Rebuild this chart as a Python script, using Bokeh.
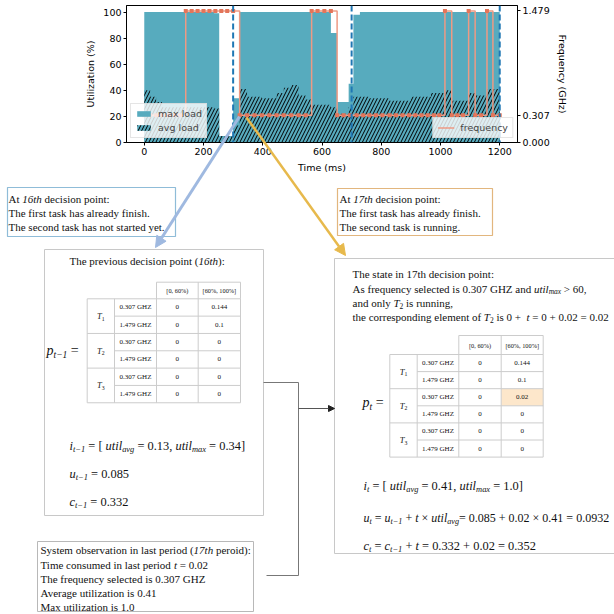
import numpy as np
from collections import defaultdict
from bokeh.plotting import figure
from bokeh.models import (Range1d, LinearAxis, FixedTicker, NumeralTickFormatter, Span,
                          Legend, LegendItem, ColumnDataSource, Arrow, NormalHead)
from bokeh.layouts import column
from bokeh.core.properties import value
from bokeh.embed import file_html
from bokeh.resources import INLINE

# ------------------------------------------------------------------ data
max_t = [0, 236, 253, 300, 322, 630, 651, 690, 706, 728, 1200]
max_v = [100, 99, 5, 34, 100, 84, 31, 45, 98, 100, 100]

avg_t = [0, 20, 40, 60, 236, 253, 300, 322, 347, 397, 447, 471, 496, 521, 545, 565, 630,
         651, 690, 706, 760, 828, 900, 968, 1015, 1038, 1095, 1117, 1157, 1200]
avg_v = [40, 35, 31, 27, 26, 5, 13, 41, 35, 34, 38, 42, 44, 36, 33, 29, 27,
         22, 27, 35, 34, 32, 35, 38, 40, 32, 38, 36, 41, 41]

freq_t = [0, 140, 322, 565, 651, 1015, 1038, 1095, 1117, 1157, 1177, 1200]
freq_v = [0.307, 1.479, 0.307, 1.479, 0.307, 1.479, 0.307, 1.479, 0.307, 1.479, 0.307, 0.307]

decision_ms = [0, 20, 40, 60, 80, 100, 120, 140, 160, 180, 200, 220, 240, 260, 280, 300, 322,
               347, 372, 397, 422, 447, 471, 496, 521, 545, 565, 585, 608, 630, 651, 673, 695,
               717, 739, 760, 782, 804, 828, 850, 872, 894, 915, 936, 957, 978, 996, 1015,
               1038, 1057, 1076, 1095, 1117, 1137, 1157, 1177, 1200]

event_ms = [300, 700, 1200]

x_ticks = [0, 200, 400, 600, 800, 1000, 1200]
util_ticks = [0, 20, 40, 60, 80, 100]
freq_ticks = [0.0, 0.307, 1.479]

tasks = ["1", "2", "3"]
freq_labels = ["0.307 GHZ", "1.479 GHZ"]
bin_labels = ["[0, 60%)", "[60%, 100%]"]
p_prev = [[0, 0.144], [0, 0.1], [0, 0], [0, 0], [0, 0], [0, 0]]
p_now = [[0, 0.144], [0, 0.1], [0, 0.02], [0, 0], [0, 0], [0, 0]]

# ------------------------------------------------------------------ top chart
teal = "#57abbe"
top = figure(width=614, height=614, x_range=Range1d(-60, 1260), y_range=Range1d(0, 105),
             output_backend="svg", toolbar_location=None,
             min_border_left=126, min_border_right=97, min_border_top=5, min_border_bottom=472)
top.xgrid.visible = False
top.ygrid.visible = False
top.outline_line_color = "black"
top.outline_line_alpha = 1.0

r_max = top.varea_step(x=max_t, y1=[0] * len(max_t), y2=max_v, step_mode="after",
                       fill_color=teal)
r_avg = top.varea_step(x=avg_t, y1=[0] * len(avg_t), y2=avg_v, step_mode="after",
                       fill_color=teal, hatch_pattern="/", hatch_color="black",
                       hatch_scale=7, hatch_weight=1)

top.extra_y_ranges = {"freq": Range1d(0, 1.54)}
r_f = top.step(x=freq_t, y=freq_v, mode="after", y_range_name="freq",
               line_color="#ee9a84", line_width=1.5)
idx = np.searchsorted(freq_t, decision_ms, side="right") - 1
marker_f = np.array(freq_v)[np.clip(idx, 0, len(freq_v) - 1)]
top.scatter(x=decision_ms, y=marker_f, y_range_name="freq", marker="square", size=4,
            fill_color="#e3755a", line_color=None)

for xv in event_ms:
    top.add_layout(Span(location=xv, dimension="height", line_color="#1f77b4",
                        line_width=2, line_dash="6 3"))

top.xaxis.ticker = FixedTicker(ticks=x_ticks)
top.yaxis.ticker = FixedTicker(ticks=util_ticks)
top.xaxis.axis_label = "Time (ms)"
top.yaxis.axis_label = "Utilization (%)"
raxis = LinearAxis(y_range_name="freq", ticker=FixedTicker(ticks=freq_ticks),
                   formatter=NumeralTickFormatter(format="0.000"),
                   axis_label="Frequency (GHz)")
top.add_layout(raxis, "right")
for ax in top.axis:
    ax.major_label_text_font = "DejaVu Sans"
    ax.major_label_text_font_size = "9.5px"
    ax.major_label_text_color = "black"
    ax.axis_label_text_font = "DejaVu Sans"
    ax.axis_label_text_font_size = "9.5px"
    ax.axis_label_text_font_style = "normal"
    ax.axis_label_text_color = "black"
    ax.axis_line_color = "black"
    ax.major_tick_line_color = "black"
    ax.major_tick_out = 3
    ax.major_tick_in = 0
    ax.minor_tick_out = 0
    ax.minor_tick_in = 0
    ax.major_label_standoff = 2
    ax.axis_label_standoff = 4

def style_legend(lg):
    lg.label_text_font = "DejaVu Sans"
    lg.label_text_font_size = "9.5px"
    lg.glyph_width = 17
    lg.glyph_height = 7
    lg.label_height = 9
    lg.label_standoff = 6
    lg.spacing = 3
    lg.padding = 4
    lg.margin = 4
    lg.background_fill_alpha = 0.8
    lg.border_line_color = "#cccccc"

leg1 = Legend(items=[LegendItem(label="max load", renderers=[r_max]),
                     LegendItem(label="avg load", renderers=[r_avg])], location="bottom_left")
style_legend(leg1)
top.add_layout(leg1)
leg2 = Legend(items=[LegendItem(label="frequency", renderers=[r_f])], location="bottom_right")
style_legend(leg2)
top.add_layout(leg2)

# ------------------------------------------------------------------ diagram overlay
dia = figure(width=614, height=614, x_range=Range1d(0, 614), y_range=Range1d(614, 0),
             output_backend="svg", toolbar_location=None, min_border=0,
             x_axis_type=None, y_axis_type=None, outline_line_color=None,
             background_fill_color=None, border_fill_color=None)
dia.grid.visible = False
for fig in (top, dia):
    try:
        fig.frame_align = False
    except Exception:
        pass

REG = dict(zip("abcdefghijklmnopqrstuvwxyz",
               [444, 500, 444, 500, 444, 333, 500, 500, 278, 278, 500, 278, 778, 500, 500,
                500, 500, 333, 389, 278, 500, 500, 722, 500, 500, 444]))
REG.update(zip("ABCDEFGHIJKLMNOPQRSTUVWXYZ",
               [722, 667, 667, 722, 611, 556, 722, 722, 333, 389, 722, 611, 889, 722, 722,
                556, 722, 667, 556, 611, 722, 722, 944, 722, 722, 611]))
REG.update({c: 500 for c in "0123456789"})
REG.update({" ": 250, "(": 333, ")": 333, "[": 333, "]": 333, ",": 250, ".": 250, ":": 278,
            "=": 564, "+": 564, "\u2212": 564, "\u00d7": 564, ">": 564, "%": 833, "-": 333})
ITA = dict(zip("abcdefghijklmnopqrstuvwxyz",
               [500, 500, 444, 500, 444, 278, 500, 500, 278, 278, 444, 278, 722, 500, 500,
                500, 500, 389, 389, 278, 500, 444, 667, 444, 444, 389]))
ITA.update({c: 500 for c in "0123456789"})
ITA.update({"T": 556, " ": 250, "\u2212": 675})

def tw(s, italic, size):
    tbl = ITA if italic else REG
    return sum(tbl.get(ch, 500) for ch in s) / 1000.0 * size

TXT = defaultdict(lambda: {"x": [], "y": [], "text": []})

def put(x, y, s, size, style="normal", align="left"):
    d = TXT[(round(size, 2), style, align)]
    d["x"].append(x)
    d["y"].append(y)
    d["text"].append(s)

def runs(x, y, parts, size=11):
    for s, kind in parts:
        sub = kind.startswith("s")
        it = kind.endswith("i")
        sz = size * 0.68 if sub else size
        yy = y + size * 0.3 if sub else y
        core = s.strip(" ")
        lead = len(s) - len(s.lstrip(" "))
        x += tw(" " * lead, it, sz)
        if core:
            put(x, yy, core, sz, "italic" if it else "normal")
        x += tw(s[lead:], it, sz)
    return x

SEG = defaultdict(lambda: {"x0": [], "y0": [], "x1": [], "y1": []})

def seg(color, x0, y0, x1, y1):
    d = SEG[color]
    d["x0"].append(x0); d["y0"].append(y0); d["x1"].append(x1); d["y1"].append(y1)

def box(l, t, r, b, color, width=1.0):
    dia.quad(left=[l], right=[r], top=[t], bottom=[b], fill_color=None,
             line_color=color, line_width=width)

def table(x0, y0, hh, rh, cols, vals, hl=None):
    c0, c1, c2, c3, c4 = cols
    yd = y0 + hh
    if hl is not None:
        r, c = hl
        dia.quad(left=[cols[2 + c]], right=[cols[3 + c]], top=[yd + r * rh],
                 bottom=[yd + (r + 1) * rh], fill_color="#fde7cb", line_color=None)
    g = "#cccccc"
    seg(g, c2, y0, c4, y0)
    for c in (c2, c3, c4):
        seg(g, c, y0, c, yd)
    for k in range(7):
        seg(g, c0 if k % 2 == 0 else c1, yd + k * rh, c4, yd + k * rh)
    for c in cols:
        seg(g, c, yd, c, yd + 6 * rh)
    put((c2 + c3) / 2, y0 + hh / 2, bin_labels[0], 6.3, align="center")
    put((c3 + c4) / 2, y0 + hh / 2, bin_labels[1], 6.3, align="center")
    for gi, tk in enumerate(tasks):
        w = tw("T", True, 8.5) + tw(tk, False, 8.5 * 0.68)
        runs((c0 + c1) / 2 - w / 2, yd + (2 * gi + 1) * rh, [("T", "i"), (tk, "sr")], 8.5)
    for r in range(6):
        yc = yd + (r + 0.5) * rh
        put((c1 + c2) / 2, yc, freq_labels[r % 2], 7, align="center")
        put((c2 + c3) / 2, yc, f"{vals[r][0]:g}", 7, align="center")
        put((c3 + c4) / 2, yc, f"{vals[r][1]:g}", 7, align="center")

# callout boxes
box(7, 187, 175, 236, "#8fbcd8", 1.2)
runs(8, 198, [("At ", "r"), ("16th", "i"), (" decision point:", "r")])
runs(8, 212, [("The first task has already finish.", "r")])
runs(8, 226, [("The second task has not started yet.", "r")])

box(337, 188, 492, 235, "#e2b67e", 1.2)
runs(339, 198, [("At ", "r"), ("17th", "i"), (" decision point:", "r")])
runs(339, 212, [("The first task has already finish.", "r")])
runs(339, 226, [("The second task is running.", "r")])

# left main box
box(44, 249, 263, 515, "#c8c8c8")
runs(69, 260, [("The previous decision point (", "r"), ("16th", "i"), ("):", "r")])
table(86.7, 281.7, 16.6, 17.33, [86.7, 114, 156, 197.7, 240], p_prev)
runs(46, 350, [("p", "i"), ("t\u22121", "si"), (" =", "r")], 14)
MS = 12.4
runs(69, 445, [("i", "i"), ("t\u22121", "si"), (" = [ ", "r"), ("util", "i"), ("avg", "si"),
               (" = 0.13, ", "r"), ("util", "i"), ("max", "si"), (" = 0.34]", "r")], MS)
runs(69, 473, [("u", "i"), ("t\u22121", "si"), (" = 0.085", "r")], MS)
runs(69, 501, [("c", "i"), ("t\u22121", "si"), (" = 0.332", "r")], MS)

# right main box
box(334, 258, 630, 553, "#c8c8c8")
runs(352, 273, [("The state in 17th decision point:", "r")])
runs(352, 288, [("As frequency selected is 0.307 GHZ and ", "r"), ("util", "i"), ("max", "si"),
                (" > 60,", "r")])
runs(352, 302, [("and only ", "r"), ("T", "i"), ("2", "sr"), (" is running,", "r")])
runs(352, 316, [("the corresponding element of ", "r"), ("T", "i"), ("2", "sr"),
                (" is  0 + ", "r"), ("t", "i"), (" = 0 + 0.02 = 0.02", "r")])
table(389.3, 335, 19, 17.1, [389.3, 416.7, 458.3, 500.7, 542.7], p_now, hl=(2, 1))
runs(362, 402, [("p", "i"), ("t", "si"), (" =", "r")], 14)
runs(363, 485, [("i", "i"), ("t", "si"), (" = [ ", "r"), ("util", "i"), ("avg", "si"),
                (" = 0.41, ", "r"), ("util", "i"), ("max", "si"), (" = 1.0]", "r")], MS)
runs(363, 517, [("u", "i"), ("t", "si"), (" = ", "r"), ("u", "i"), ("t\u22121", "si"),
                (" + ", "r"), ("t", "i"), (" \u00d7 ", "r"), ("util", "i"), ("avg", "si"),
                ("= 0.085 + 0.02 \u00d7 0.41 = 0.0932", "r")], 12.0)
runs(363, 545, [("c", "i"), ("t", "si"), (" = ", "r"), ("c", "i"), ("t\u22121", "si"),
                (" + ", "r"), ("t", "i"), (" = 0.332 + 0.02 = 0.352", "r")], MS)

# bottom-left observation box
box(37, 541, 253, 611, "#b8b8b8")
runs(40, 549, [("System observation in last period (", "r"), ("17th", "i"), (" peroid):", "r")])
runs(40, 564, [("Time consumed in last period ", "r"), ("t", "i"), (" = 0.02", "r")])
runs(40, 578, [("The frequency selected is 0.307 GHZ", "r")])
runs(40, 592, [("Average utilization is 0.41", "r")])
runs(40, 606, [("Max utilization is 1.0", "r")])

# connectors
seg("#777777", 263, 382, 298, 382)
seg("#777777", 298, 382, 298, 575)
seg("#777777", 266, 575, 298, 575)

for color, d in SEG.items():
    dia.segment(x0="x0", y0="y0", x1="x1", y1="y1", source=ColumnDataSource(dict(d)),
                line_color=color, line_width=1)

dia.add_layout(Arrow(end=NormalHead(size=6, fill_color="#222222", line_color="#222222"),
                     x_start=298, y_start=408, x_end=334, y_end=408,
                     line_color="#555555", line_width=1))

blue = "#9fb9e0"
gold = "#e7b94c"
dia.add_layout(Arrow(end=NormalHead(size=11, fill_color=blue, line_color=blue),
                     x_start=239, y_start=116, x_end=155, y_end=247,
                     line_color=blue, line_width=3))
dia.add_layout(Arrow(end=NormalHead(size=11, fill_color=gold, line_color=gold),
                     x_start=246, y_start=117, x_end=345, y_end=255,
                     line_color=gold, line_width=2.5))

for (sz, style, align), d in TXT.items():
    dia.text(x="x", y="y", text="text", source=ColumnDataSource(dict(d)),
             text_font=value("Liberation Serif"), text_font_size=value(f"{sz}px"),
             text_font_style=value(style), text_align=value(align),
             text_baseline=value("middle"), text_color="#111111")

dia.margin = (-614, 0, 0, 0)
layout = column(column(top), column(dia), spacing=0)

open("out.html", "w").write(file_html(layout, INLINE))
